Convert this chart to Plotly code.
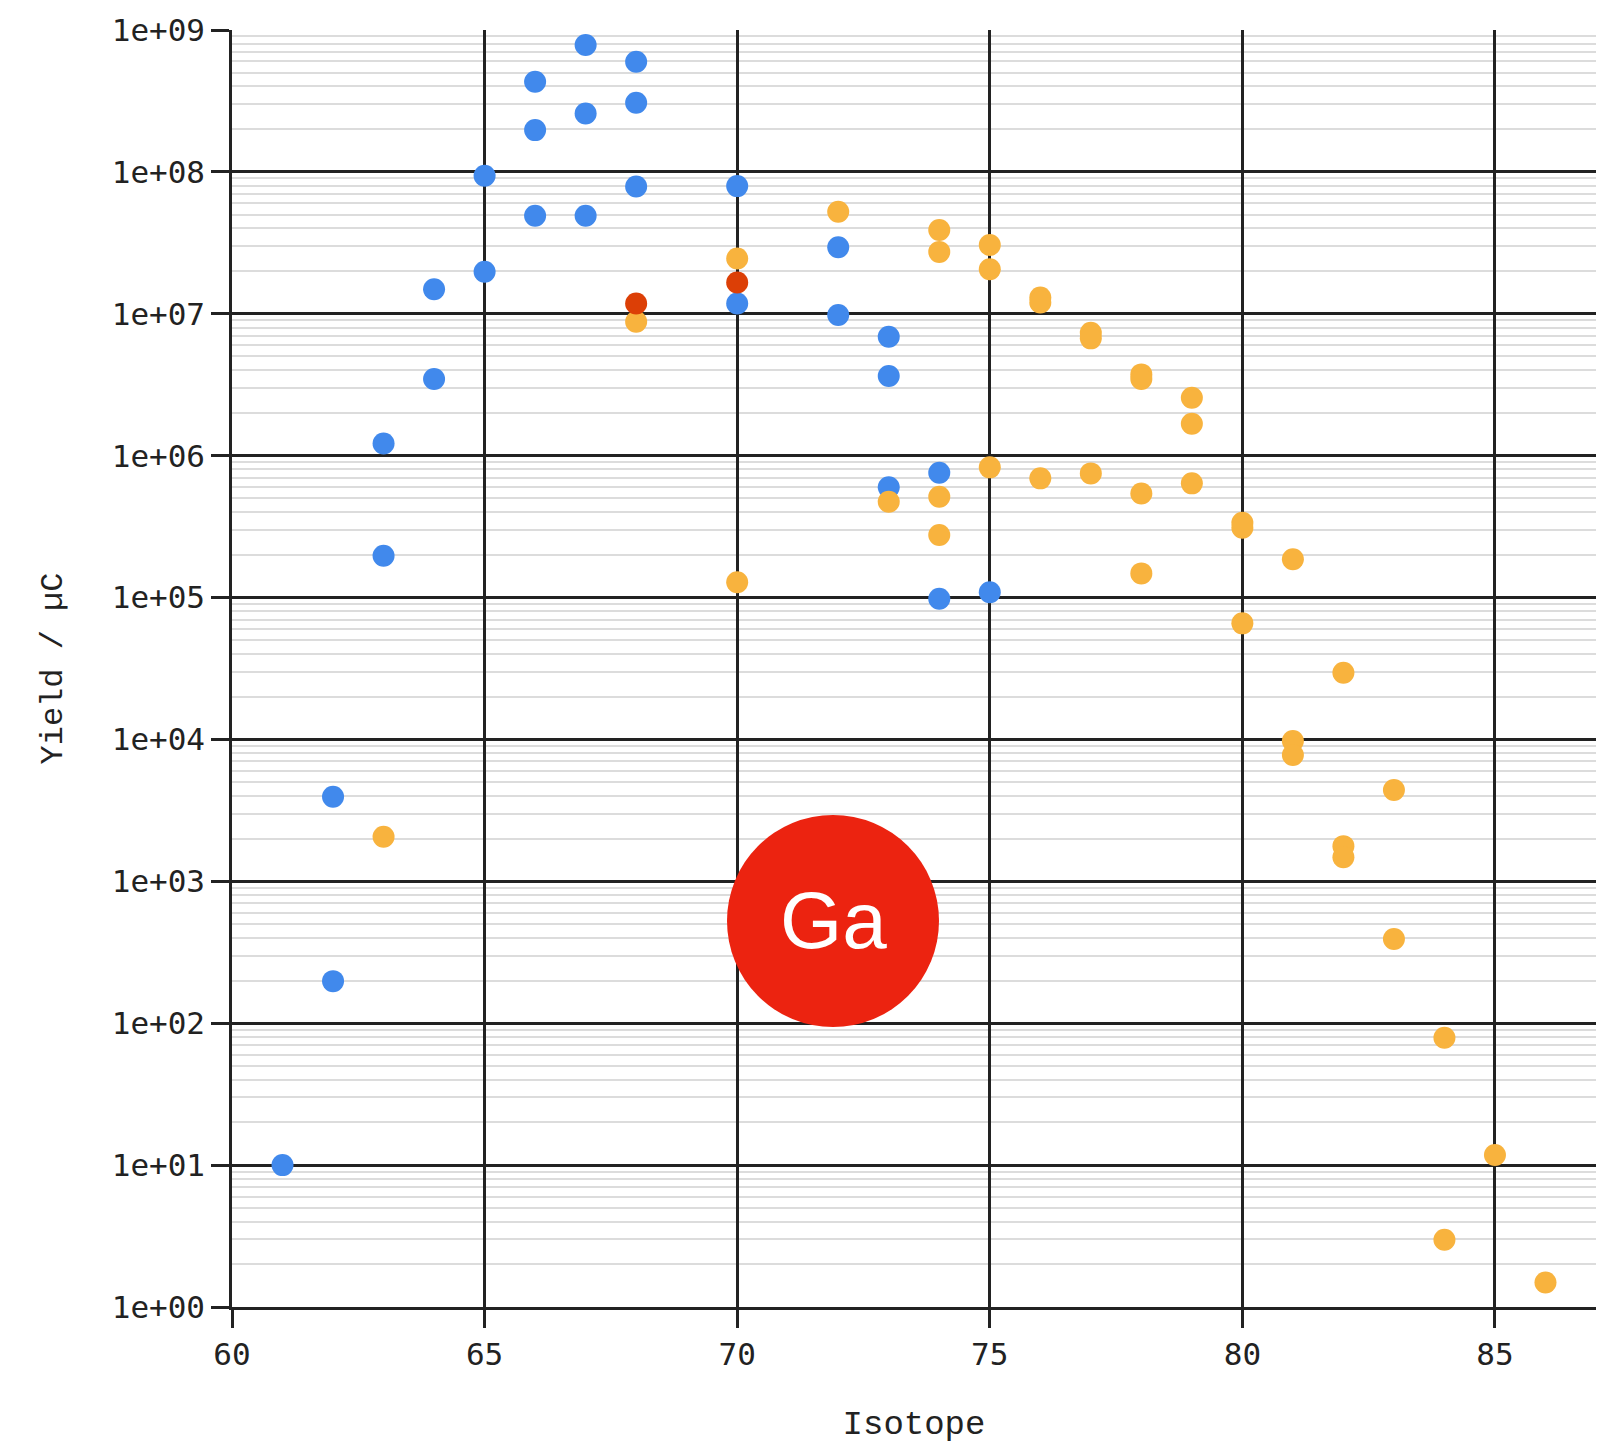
import plotly.graph_objects as go

# ---- data ----
blue_x = [61, 62, 62, 63, 63, 64, 64, 65, 65, 66, 66, 66, 67, 67, 67, 68, 68, 68,
          70, 70, 72, 72, 73, 73, 73, 74, 74, 75]
blue_y = [10, 3950, 198, 1.22e6, 1.97e5, 1.49e7, 3.47e6, 9.4e7, 1.98e7, 4.32e8, 1.97e8, 4.91e7,
          7.83e8, 2.58e8, 4.91e7, 5.97e8, 3.07e8, 7.9e7,
          7.94e7, 1.18e7, 2.94e7, 9.8e6, 6.89e6, 3.64e6, 5.98e5, 7.58e5, 9.8e4, 1.09e5]

orange_x = [63, 68, 70, 70, 72, 73, 74, 74, 74, 74, 75, 75, 75, 76, 76, 76,
            77, 77, 77, 78, 78, 78, 78, 79, 79, 79, 80, 80, 80, 81, 81, 81,
            82, 82, 82, 83, 83, 84, 84, 85, 86]
orange_y = [2060, 8.8e6, 2.45e7, 1.28e5, 5.24e7, 4.73e5, 3.89e7, 2.73e7, 5.13e5, 2.76e5,
            3.05e7, 2.06e7, 8.27e5, 1.3e7, 1.2e7, 6.92e5,
            7.35e6, 6.71e6, 7.5e5, 3.74e6, 3.47e6, 5.42e5, 1.48e5,
            2.56e6, 1.68e6, 6.38e5, 3.37e5, 3.11e5, 6.58e4, 1.86e5, 9.75e3, 7.76e3,
            2.95e4, 1.77e3, 1.48e3, 4.4e3, 392, 79, 2.98, 11.8, 1.49]

red_x = [68, 70]
red_y = [1.18e7, 1.66e7]

y_tick_vals = [1, 10, 100, 1e3, 1e4, 1e5, 1e6, 1e7, 1e8, 1e9]
y_tick_text = ["1e+00", "1e+01", "1e+02", "1e+03", "1e+04",
               "1e+05", "1e+06", "1e+07", "1e+08", "1e+09"]
x_tick_vals = [60, 65, 70, 75, 80, 85]

element_label = "Ga"

BLUE = "#4189ec"
ORANGE = "#f8b33e"
RED = "#dc3f06"
BADGE = "#ec2310"

fig = go.Figure()
for xs, ys, col in [(blue_x, blue_y, BLUE), (orange_x, orange_y, ORANGE), (red_x, red_y, RED)]:
    fig.add_trace(go.Scatter(x=xs, y=ys, mode="markers",
                             marker=dict(size=22, color=col, line=dict(width=0)),
                             showlegend=False, cliponaxis=False))

W, H = 1599, 1451
ML, MR, MT, MB = 232, 3, 30, 144
pw, ph = W - ML - MR, H - MT - MB

# badge geometry in pixels -> paper
cx, cy, r = 833, 921, 106
px = (cx - ML) / pw
py = (H - MB - cy) / ph
fig.add_shape(type="circle", xref="paper", yref="paper",
              x0=px - r / pw, x1=px + r / pw, y0=py - r / ph, y1=py + r / ph,
              fillcolor=BADGE, line=dict(width=0), layer="above")
fig.add_annotation(x=px, y=py, xref="paper", yref="paper", text=element_label,
                   showarrow=False, font=dict(family="Liberation Sans", size=80, color="white"),
                   xanchor="center", yanchor="middle")

tickfont = dict(family="DejaVu Sans Mono", size=31, color="#222")
titlefont = dict(family="Liberation Mono", size=34, color="#222")

fig.update_layout(
    width=W, height=H,
    margin=dict(l=ML, r=MR, t=MT, b=MB, pad=0),
    paper_bgcolor="white", plot_bgcolor="white",
    xaxis=dict(range=[60, 87], tickvals=x_tick_vals, showgrid=True, gridcolor="#222",
               gridwidth=2.5, zeroline=False, showline=True, linecolor="#222", linewidth=2.5,
               ticks="outside", ticklen=18, tickwidth=2.5, tickcolor="#222",
               tickfont=tickfont, title=dict(text="Isotope", font=titlefont, standoff=40)),
    yaxis=dict(type="log", range=[0, 9], tickvals=y_tick_vals, ticktext=y_tick_text,
               showgrid=True, gridcolor="#222", gridwidth=2.5, zeroline=False,
               showline=True, linecolor="#222", linewidth=2.5,
               ticks="outside", ticklen=18, tickwidth=2.5, tickcolor="#222",
               tickfont=tickfont,
               minor=dict(dtick="D1", showgrid=True, gridcolor="#dcdcdc", gridwidth=2, ticks=""),
               title=dict(text="Yield / µC", font=dict(family="Liberation Mono", size=32, color="#222"),
                          standoff=40)),
)

fig.write_html("out.html", config={"displayModeBar": False},
               post_script="document.body.style.margin='0';")
